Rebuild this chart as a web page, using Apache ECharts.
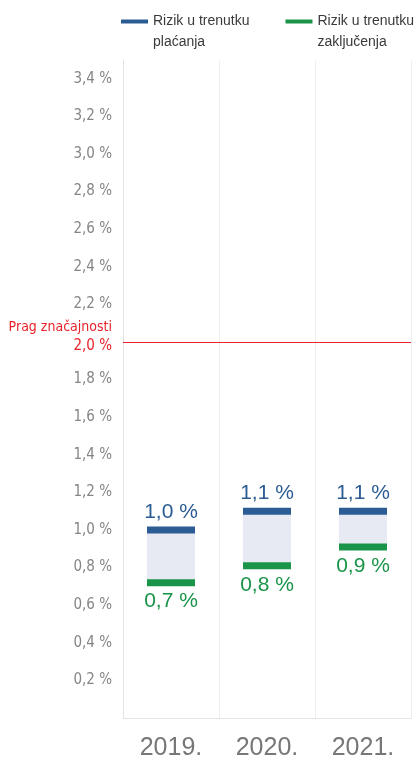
<!DOCTYPE html>
<html>
<head>
	<meta charset="utf-8">
	<title>Rizik</title>
	<style>
		html, body { margin: 0; padding: 0; background: #fff; }
		#chart { width: 417px; height: 762px; }
	</style>
</head>
<body>
	<div id="chart"></div>
<script src="https://cdn.jsdelivr.net/npm/echarts@6/dist/echarts.min.js"></script>
<script>
	// podaci
	var years = ['2019.', '2020.', '2021.'];
	var placanja = [1.0, 1.1, 1.1];       // rizik u trenutku plaćanja
	var zakljucenja = [0.72, 0.81, 0.91]; // rizik u trenutku zaključenja
	var prag = 2.0;

	var blue = '#2b5c94';
	var green = '#1a9448';
	var narrow = "'Liberation Sans Narrow', 'DejaVu Sans Condensed', 'Liberation Sans'";

	function fmt(v) {
		return v.toFixed(1).replace('.', ',') + ' %';
	}

	var spans = placanja.map(function (v, i) { return +(v - zakljucenja[i]).toFixed(3); });

	var chart = echarts.init(document.getElementById('chart'));
	var option = {
		animation: false,
		legend: {
			top: -10,
			left: 121,
			padding: 0,
			itemGap: 36,
			itemWidth: 27,
			itemHeight: 4,
			icon: 'rect',
			data: ['Rizik u trenutku plaćanja', 'Rizik u trenutku zaključenja'],
			// prazan prvi red da ikona stoji uz prvi red teksta
			formatter: function (n) { return ' \n' + n.replace('trenutku ', 'trenutku\n'); },
			textStyle: {
				fontFamily: 'Liberation Sans',
				fontSize: 14,
				color: '#3a3a3a',
				lineHeight: 21
			}
		},
		grid: { left: 123, right: 6, top: 60, bottom: 44 },
		xAxis: {
			type: 'category',
			data: years,
			axisTick: { show: false },
			axisLine: { lineStyle: { color: '#e3e3e3' } },
			splitLine: {
				show: true,
				interval: function (i) { return i > 0 && i < years.length; },
				lineStyle: { color: '#efefef' }
			},
			axisLabel: { fontFamily: 'Liberation Sans', fontSize: 25, color: '#777', margin: 18 }
		},
		yAxis: {
			type: 'value',
			min: 0,
			max: 3.5,
			interval: 0.2,
			axisLine: { show: true, lineStyle: { color: '#e3e3e3' } },
			axisTick: { show: false },
			splitLine: { show: false },
			axisLabel: {
				margin: 11,
				fontFamily: narrow,
				fontSize: 15,
				color: '#858585',
				formatter: function (v) {
					if (v === 0 || Math.abs(v * 5 - Math.round(v * 5)) > 1e-6) return '';
					if (Math.abs(v - prag) < 1e-6) return '{p|Prag značajnosti}\n{r|' + fmt(v) + '}\n{e| }';
					return fmt(v);
				},
				rich: {
					p: { color: '#e8222a', fontFamily: narrow, fontSize: 14, lineHeight: 20, align: 'right' },
					r: { color: '#e8222a', fontFamily: narrow, fontSize: 15, lineHeight: 18, align: 'right' },
					e: { fontSize: 8, lineHeight: 12 }
				}
			}
		},
		series: [
			{
				type: 'bar',
				stack: 'r',
				barWidth: 48,
				silent: true,
				itemStyle: { color: 'transparent' },
				data: zakljucenja,
				markLine: {
					symbol: 'none',
					silent: true,
					label: { show: false },
					lineStyle: { color: '#e8222a', width: 1, type: 'solid' },
					data: [{ yAxis: prag }]
				}
			},
			{
				type: 'bar',
				stack: 'r',
				barWidth: 48,
				silent: true,
				itemStyle: { color: '#e7eaf3' },
				data: spans
			},
			{
				name: 'Rizik u trenutku plaćanja',
				type: 'scatter',
				symbol: 'rect',
				symbolSize: [48, 7],
				itemStyle: { color: blue, opacity: 1 },
				label: {
					show: true,
					position: 'top',
					distance: 4,
					fontFamily: 'Liberation Sans',
					fontSize: 21,
					color: blue,
					formatter: function (p) { return fmt(p.value); }
				},
				data: placanja
			},
			{
				name: 'Rizik u trenutku zaključenja',
				type: 'scatter',
				symbol: 'rect',
				symbolSize: [48, 7],
				itemStyle: { color: green, opacity: 1 },
				label: {
					show: true,
					position: 'bottom',
					distance: 5,
					fontFamily: 'Liberation Sans',
					fontSize: 21,
					color: green,
					formatter: function (p) { return fmt(p.value); }
				},
				data: zakljucenja
			}
		]
	};
	chart.setOption(option);
</script>
</body>
</html>
